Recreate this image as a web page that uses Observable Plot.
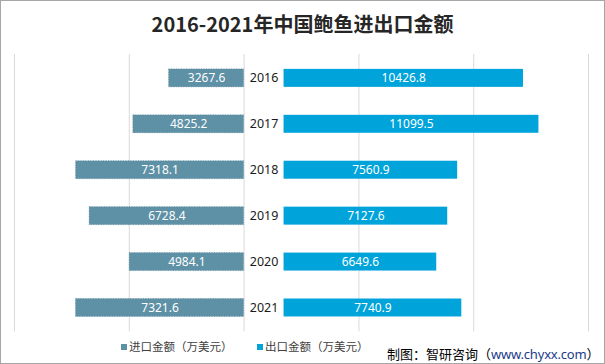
<!DOCTYPE html>
<html>
<head>
<meta charset="utf-8">
<script src="https://cdn.jsdelivr.net/npm/d3@7"></script>
<script src="https://cdn.jsdelivr.net/npm/@observablehq/plot@0.6"></script>
<style>
  html, body { margin: 0; padding: 0; background: #fff; }
  #wrap { position: relative; width: 605px; height: 364px; border: 1px solid #a6a6a6; box-sizing: border-box; overflow: hidden; background: #fff; font-family: "Noto Sans CJK SC", "Noto Sans", sans-serif; }
  #chart { position: absolute; left: -1px; top: -1px; }
  #title { position: absolute; left: -1px; width: 605px; top: 10px; text-align: center; font-size: 20px; font-weight: 700; color: #262626; line-height: 26px; }
  .leg { position: absolute; top: 336px; font-size: 11.5px; color: #404040; line-height: 18px; white-space: nowrap; }
  .leg i { display: inline-block; width: 6px; height: 6px; margin-right: 2px; vertical-align: 1px; }
  #caption { position: absolute; left: 386px; top: 343px; font-size: 13px; color: #000; line-height: 20px; white-space: nowrap; }
  #caption span { color: #1c3b8c; font-family: "Noto Sans", sans-serif; letter-spacing: -0.2px; }
</style>
</head>
<body>
<div id="wrap">
  <div id="chart"></div>
  <div id="title">2016-2021年中国鲍鱼进出口金额</div>
  <div class="leg" style="left:120px"><i style="background:#5e90a6"></i>进口金额（万美元）</div>
  <div class="leg" style="left:256px"><i style="background:#00a3da"></i>出口金额（万美元）</div>
  <div id="caption">制图：智研咨询（<span>www.chyxx.com</span>）</div>
</div>
<script>
const years = ["2016", "2017", "2018", "2019", "2020", "2021"];
const imports = [3267.6, 4825.2, 7318.1, 6728.4, 4984.1, 7321.6];
const exports = [10426.8, 11099.5, 7560.9, 7127.6, 6649.6, 7740.9];
const gridTicks = [-10000, -5000, 0, 5000, 10000, 15000];
const gap = 1740; // space for year labels between the two bar groups (data units)

const rows = years.map((y, i) => ({year: y, imp: imports[i], exp: exports[i]}));

const chart = Plot.plot({
  width: 605,
  height: 364,
  marginTop: 54,
  marginBottom: 32,
  marginLeft: 14,
  marginRight: 15,
  style: {fontFamily: "'Noto Sans', 'Noto Sans CJK SC', sans-serif", fontSize: "12px", background: "transparent"},
  x: {domain: [-10000, 15043], axis: null},
  y: {domain: years, padding: 0, axis: null},
  marks: [
    Plot.ruleX(gridTicks, {stroke: "#d9d9d9", strokeWidth: 1}),
    Plot.barX(rows, {y: "year", x1: 0, x2: d => -d.imp, fill: "#5e90a6", stroke: "#4f7f95", strokeWidth: 0.6, strokeDasharray: "1,1.5", insetTop: 14, insetBottom: 14}),
    Plot.barX(rows, {y: "year", x1: gap, x2: d => gap + d.exp, fill: "#00a3da", insetTop: 14, insetBottom: 14}),
    Plot.text(rows, {y: "year", x: d => -d.imp / 2, text: d => d.imp.toFixed(1), fill: "#fff", fontSize: 12}),
    Plot.text(rows, {y: "year", x: d => gap + d.exp / 2, text: d => d.exp.toFixed(1), fill: "#fff", fontSize: 12}),
    Plot.text(rows, {y: "year", x: gap / 2, text: "year", fill: "#1a1a1a", fontSize: 12.5})
  ]
});
document.getElementById("chart").appendChild(chart);
</script>
</body>
</html>
